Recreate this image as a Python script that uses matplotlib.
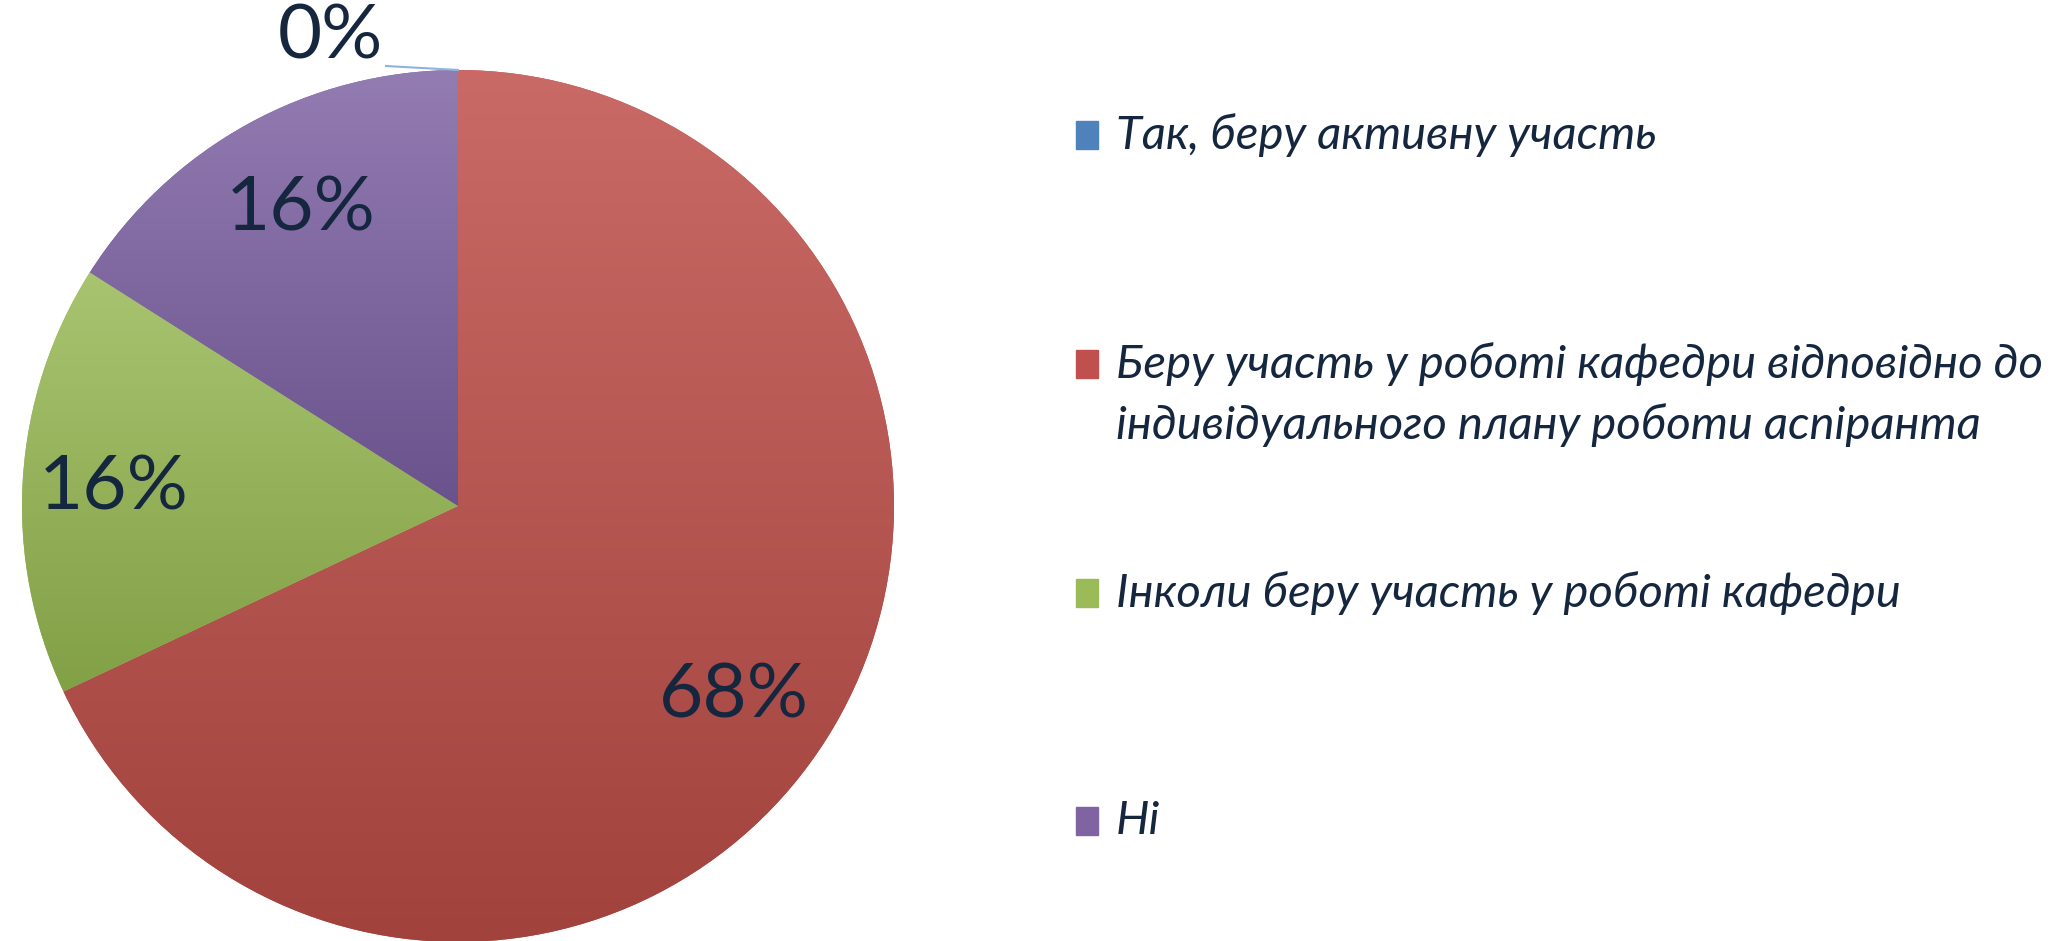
import numpy as np
import matplotlib
matplotlib.use("Agg")
import matplotlib.pyplot as plt
from matplotlib.patches import Rectangle
from matplotlib.colors import LinearSegmentedColormap

categories = ["Так, беру активну участь",
              "Беру участь у роботі кафедри відповідно до\nіндивідуального плану роботи аспіранта",
              "Інколи беру участь у роботі кафедри",
              "Ні"]
values = [0, 68, 16, 16]
pct_labels = ["0%", "68%", "16%", "16%"]

top_colors = ["#6D95C9", "#C96A66", "#A8C470", "#937CB2"]
bot_colors = ["#41699F", "#A1423D", "#82A046", "#6A528C"]
base_colors = ["#4F81BD", "#C0504D", "#9BBB59", "#8064A2"]
text_color = "#15263F"
W, H = 2070, 941

fig = plt.figure(figsize=(W / 100, H / 100), dpi=100)
ax = fig.add_axes([0, 0, 1, 1])

cx, cy, r = 458, H - 506, 436
wedges, _ = ax.pie(values, colors=base_colors, startangle=90, counterclock=False,
                   center=(cx, cy), radius=r, frame=True,
                   wedgeprops=dict(linewidth=0))

# vertical gradient fills
for w, tc, bc in zip(wedges, top_colors, bot_colors):
    if w.theta1 == w.theta2:
        continue
    ext = w.get_path().get_extents(w.get_patch_transform())
    cmap = LinearSegmentedColormap.from_list("g", [bc, tc])
    grad = np.linspace(0, 1, 256).reshape(-1, 1)
    im = ax.imshow(grad, cmap=cmap, origin="lower", aspect="auto",
                   extent=(ext.x0, ext.x1, ext.y0, ext.y1), zorder=2)
    im.set_clip_path(w)

ax.set_xlim(0, W)
ax.set_ylim(0, H)
ax.set_aspect("equal")
ax.axis("off")

# percentage labels
label_pos = [(330, 37), (734, 696), (114, 488), (301, 209)]
for (x, y), t in zip(label_pos, pct_labels):
    ax.text(x, H - y, t, fontsize=55, color=text_color, family="Lato",
            ha="center", va="center", zorder=5)
# leader line for 0%
ax.plot([386, 458], [H - 66, H - 70], color="#8DB3E2", lw=1.5, zorder=4)

# legend
leg_y = [135, 364, 593, 821]
line_gap = 61
for lab, y, col in zip(categories, leg_y, base_colors):
    ax.add_patch(Rectangle((1076, H - y - 14), 22, 28, color=col, zorder=5))
    for i, line in enumerate(lab.split("\n")):
        ax.text(1116, H - y - i * line_gap, line, fontsize=34, color=text_color,
                family="Lato", style="italic", ha="left", va="center", zorder=5)

fig.savefig("out.png", dpi=100)
